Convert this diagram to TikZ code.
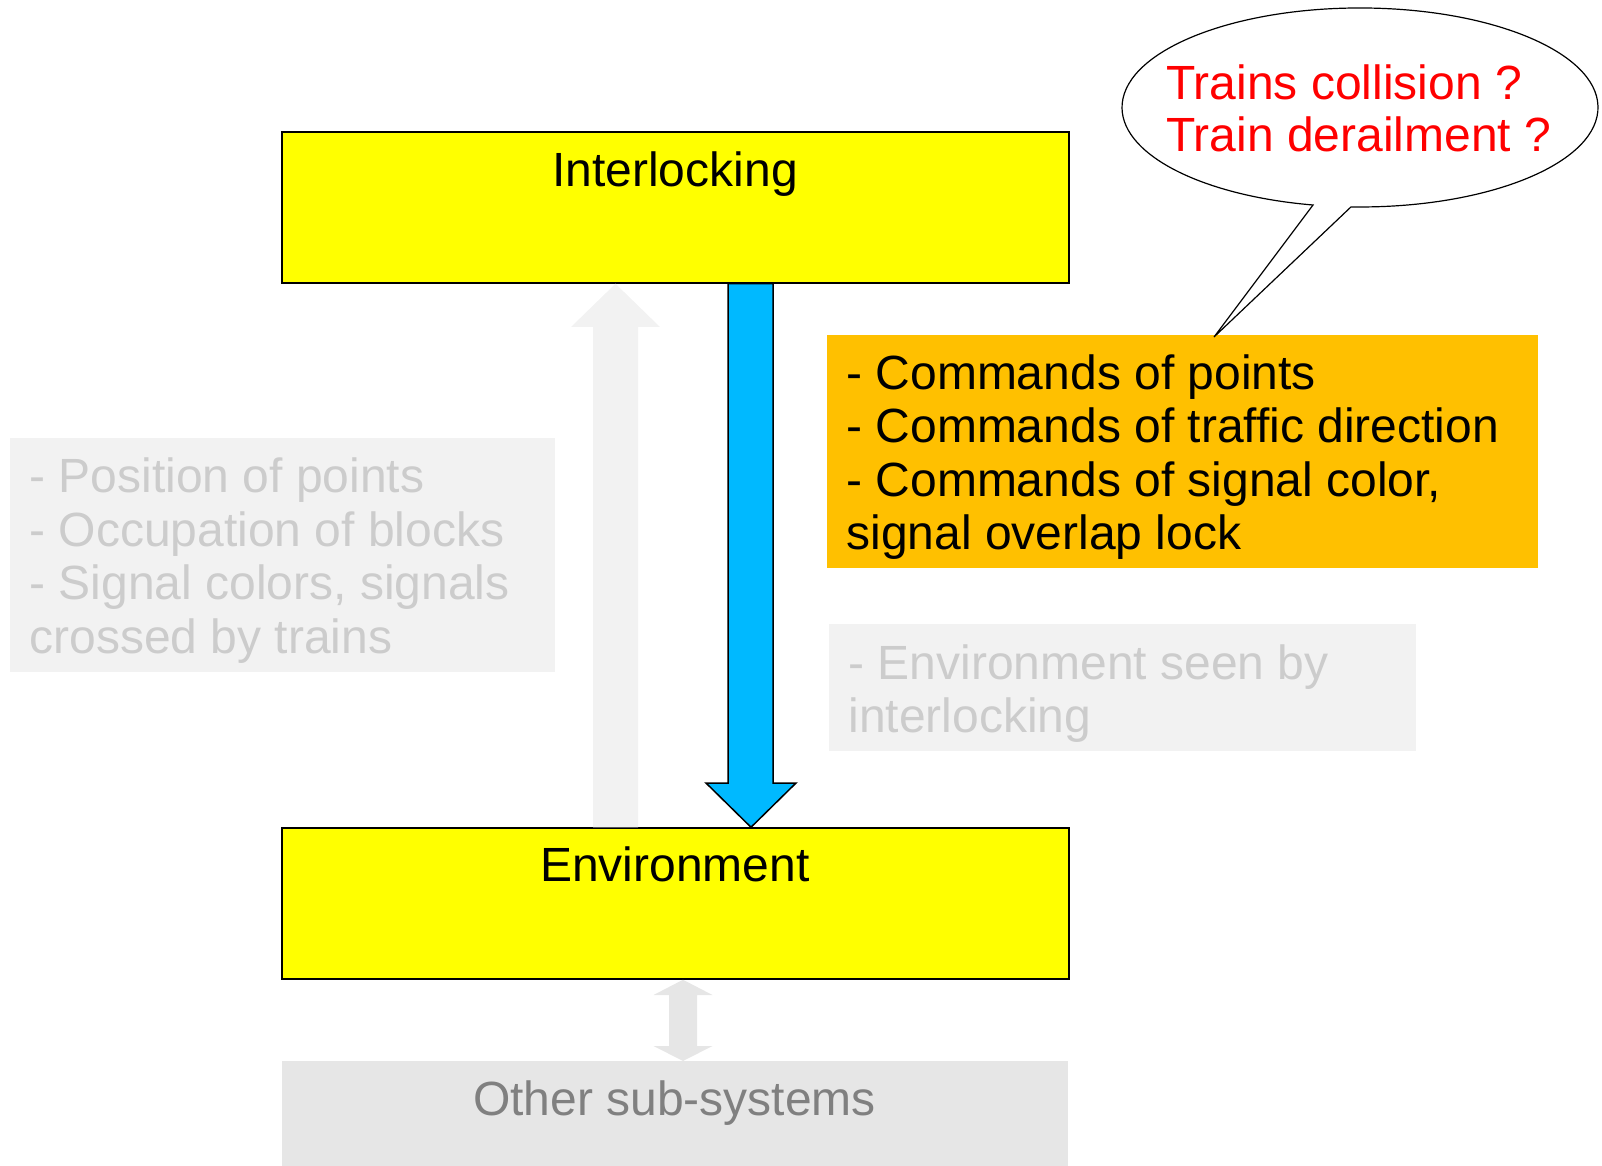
\documentclass[tikz,border=0pt]{standalone}
\usepackage{fontspec}
\setmainfont{Liberation Sans}
\usetikzlibrary{calc}
\definecolor{ybox}{HTML}{FFFF00}
\definecolor{obox}{HTML}{FFC000}
\definecolor{barrow}{HTML}{00B9FF}
\definecolor{pale}{HTML}{F2F2F2}
\definecolor{paletext}{HTML}{CCCCCC}
\definecolor{midgrey}{HTML}{E6E6E6}
\definecolor{darkgrey}{HTML}{808080}
\newcommand\diagfont{\fontsize{24}{26.75}\selectfont}
\newcommand\callfont{\fontsize{24}{26}\selectfont}
\begin{document}
\begin{tikzpicture}[x=0.5pt,y=-0.5pt,
  ybx/.style={draw=black, line width=0.75pt, fill=ybox, minimum width=393.5pt, minimum height=75.5pt, inner sep=0pt},
  flat/.style={inner sep=0pt, outer sep=0pt},
  label1/.style={anchor=base, inner sep=0pt, font=\diagfont},
  block/.style={anchor=north west, inner sep=0pt, align=left, font=\diagfont},
  arrowline/.style={draw=black, line width=0.75pt, line join=miter}]
\useasboundingbox (0,0) rectangle (1602,1166);

% boxes
\node[ybx] (inter) at (675.5,207.5) {};
\node[ybx] (env) at (675.5,903.5) {};
\node[flat, fill=midgrey, minimum width=393pt, minimum height=56pt] (other) at (675,1117) {};
\node[flat, fill=obox, minimum width=355.5pt, minimum height=116.5pt] (cmds) at (1182.5,451.5) {};
\node[flat, fill=pale, minimum width=272.5pt, minimum height=117pt] (obs) at (282.5,555) {};
\node[flat, fill=pale, minimum width=293.5pt, minimum height=63.5pt] (seen) at (1122.5,687.5) {};

% grey up arrow
\fill[pale] (env.north -| 593,0) -- (593,327) -- (571,327) -- (inter.south -| 615.5,0)
  -- (660,327) -- (638,327) -- (env.north -| 638,0) -- cycle;

% blue down arrow
\draw[arrowline, fill=barrow] (inter.south -| 728,0) -- (728,783) -- (706,783)
  -- (env.north -| 751,0) -- (796,783) -- (773,783) -- (inter.south -| 773,0) -- cycle;

% double arrow
\fill[midgrey] (env.south -| 683,0) -- (712.5,995) -- (697,995) -- (697,1046) -- (712.5,1046)
  -- (other.north -| 683,0) -- (653.5,1046) -- (669,1046) -- (669,995) -- (653.5,995) -- cycle;

% texts
\node[label1] (tinter) at (675,187) {Interlocking};
\node[label1] (tenv) at (675,881) {Environment};
\node[label1, text=darkgrey] (tother) at (674.5,1115) {Other sub-systems};
\node[block] (tcmds) at (846,351.5) {\strut- Commands of points\\- Commands of traffic direction\\- Commands of signal color,\\signal overlap lock};
\node[block, text=paletext] (tobs) at (29,455) {\strut- Position of points\\- Occupation of blocks\\- Signal colors, signals\\crossed by trains};
\node[block, text=paletext] (tseen) at (848,641.5) {\strut- Environment seen by\\interlocking};

% callout
\coordinate (tip) at ([yshift=-1pt]cmds.north -| 1214,0);
\draw[line width=0.6pt, fill=white, line join=miter] (1351,206.9)
  arc[start angle=92.17, end angle=-258.61, x radius=238, y radius=99.5] -- (tip) -- cycle;
\node[block, font=\callfont, text=red] (tcall) at (1166,62.6) {\strut Trains collision ?\\Train derailment ?};
\end{tikzpicture}
\end{document}
